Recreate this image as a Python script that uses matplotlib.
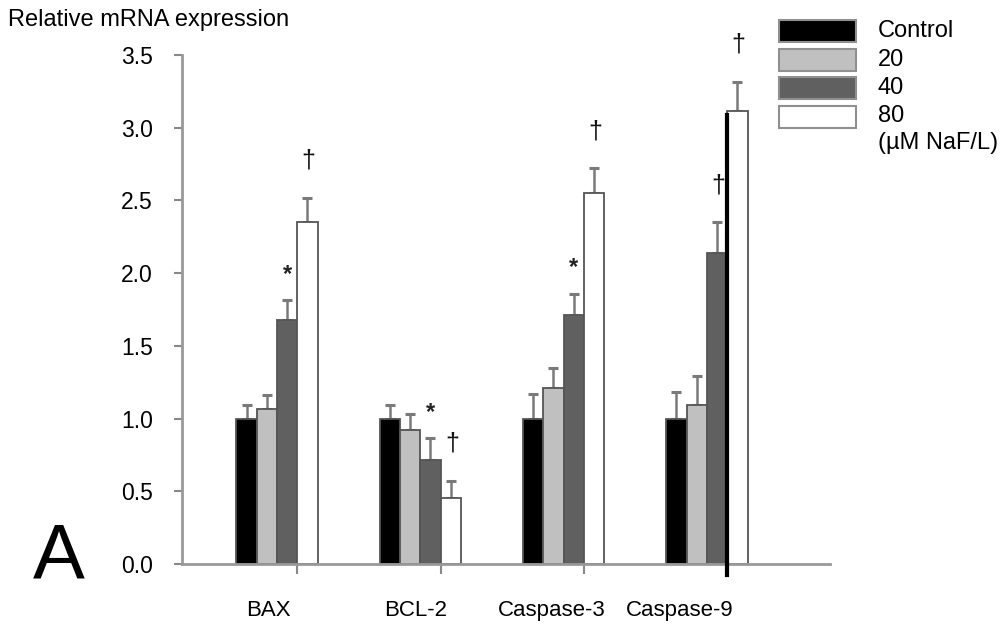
import matplotlib
matplotlib.use("Agg")
import matplotlib.pyplot as plt
from matplotlib.patches import Rectangle
import matplotlib.transforms as mtransforms
import numpy as np

plt.rcParams['font.family'] = ['Liberation Sans', 'DejaVu Sans']

categories = ["BAX", "BCL-2", "Caspase-3", "Caspase-9"]
series_names = ["Control", "20", "40", "80"]
control = [1.00, 1.00, 1.00, 1.00]
conc20 = [1.065, 0.92, 1.21, 1.09]
conc40 = [1.68, 0.715, 1.71, 2.14]
conc80 = [2.35, 0.454, 2.55, 3.115]
err_control = [0.095, 0.09, 0.17, 0.18]
err20 = [0.10, 0.11, 0.14, 0.20]
err40 = [0.135, 0.15, 0.15, 0.21]
err80 = [0.17, 0.12, 0.17, 0.20]
marks40 = ["*", "*", "*", "\u2020"]
marks80 = ["\u2020", "\u2020", "\u2020", "\u2020"]
yticks = [0.0, 0.5, 1.0, 1.5, 2.0, 2.5, 3.0, 3.5]
ylabel = "Relative mRNA expression"
legend_note = "(\u00b5M NaF/L)"

values = [control, conc20, conc40, conc80]
errors = [err_control, err20, err40, err80]
colors = ["#000000", "#c0c0c0", "#606060", "#ffffff"]
label_shift = [-0.06, -0.03, -0.08, -0.19]  # layout: horizontal nudge of category labels

W, H = 1008, 624
fig = plt.figure(figsize=(W / 100, H / 100), dpi=100)
ax = fig.add_axes([182 / W, 1 - 564 / H, (830 - 182) / W, (564 - 55) / H])

x = np.arange(len(categories))
w = 0.1417
offsets = [-1.5 * w, -0.5 * w, 0.5 * w, 1.5 * w]
for vals, errs, col, off in zip(values, errors, colors, offsets):
    ax.bar(x + off, vals, width=w, color=col, edgecolor="#555555", linewidth=1.3, zorder=2)
    ax.errorbar(x + off, vals, yerr=[np.zeros(len(vals)), errs], fmt="none",
                ecolor="#7a7a7a", elinewidth=1.8, capsize=3.8, capthick=2.2, zorder=1)

def mark(idx_series, marks, dy_star, dy_dag):
    vals = values[idx_series]
    errs = errors[idx_series]
    for i, m in enumerate(marks):
        top = vals[i] + errs[i]
        if m == "*":
            ax.annotate(m, (x[i] + offsets[idx_series], top), xytext=(0, dy_star),
                        textcoords="offset pixels", ha="center", va="center",
                        fontsize=17, fontweight="bold", color="#222222")
        else:
            ax.annotate(m, (x[i] + offsets[idx_series], top), xytext=(1, dy_dag),
                        textcoords="offset pixels", ha="center", va="center",
                        fontsize=18, color="#111111")

mark(2, marks40, 26, 37)
mark(3, marks80, 26, 37)

# dark vertical line artifact at the Caspase-9 group
ax.plot([x[3] + w, x[3] + w], [-0.075, 3.09], color="black", lw=3, zorder=5, clip_on=False)

ax.set_xlim((182 - 277) / 143.3, (830 - 277) / 143.3)
ax.set_ylim(0, 3.5)
ax.set_yticks(yticks)
ax.set_yticklabels([f"{t:.1f}" for t in yticks])
ax.set_xticks([])
ax.set_xticks(x + w, minor=True)
ax.tick_params(axis="x", which="minor", length=7, width=1.5, color="#888888", direction="out")
ax.tick_params(axis="y", length=6, width=1.5, color="#888888", pad=15, labelsize=16.5)
for s in ["top", "right"]:
    ax.spines[s].set_visible(False)
for s in ["left", "bottom"]:
    ax.spines[s].set_color("#999999")
    ax.spines[s].set_linewidth(2)

trans = mtransforms.blended_transform_factory(ax.transData, ax.transAxes)
for xi, cat, sh in zip(x, categories, label_shift):
    ax.text(xi + sh, -(610.5 - 564) / 509, cat, transform=trans, ha="center", va="center",
            fontsize=16)

fig.text(8 / W, 1 - 20 / H, ylabel, fontsize=17, ha="left", va="center")
fig.text(33 / W, 1 - 578 / H, "A", fontsize=56, ha="left", va="baseline")

# legend
ys = [31, 60, 88, 116.5]
for name, col, yc in zip(series_names, colors, ys):
    fig.add_artist(Rectangle((779 / W, 1 - (yc + 11) / H), 77 / W, 22 / H,
                             facecolor=col, edgecolor="#909090", linewidth=1.5,
                             transform=fig.transFigure))
    fig.text(878 / W, 1 - yc / H, name, fontsize=17, ha="left", va="center")
fig.text(878 / W, 1 - 143 / H, legend_note, fontsize=17, ha="left", va="center")

fig.savefig("out.png", dpi=100, facecolor="white")
